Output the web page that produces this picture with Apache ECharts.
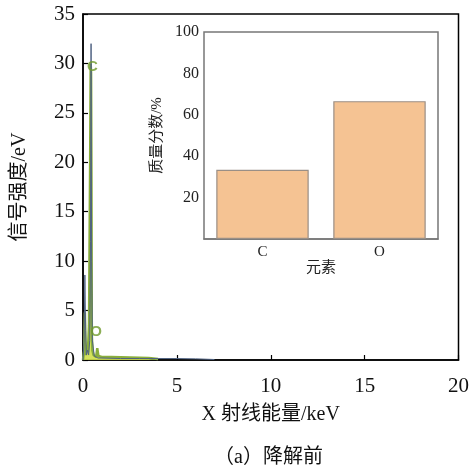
<!DOCTYPE html>
<html><head><meta charset="utf-8">
<script src="https://cdn.jsdelivr.net/npm/echarts@6/dist/echarts.min.js"></script>
<style>html,body{margin:0;padding:0;background:#fff}#c{width:472px;height:468px}</style>
</head><body><div id="c"></div>
<script>
// Spectrum (keV, signal)
const greenX = [0, 0.06, 0.1, 0.13, 0.16, 0.2, 0.26, 0.32, 0.38, 0.41, 0.43, 0.45, 0.47, 0.5, 0.56, 0.62, 0.7, 0.76, 0.82, 0.9, 1.0, 1.5, 2.5, 3.5, 4.0];
const greenY = [0, 1.0, 4.8, 2.0, 0.5, 1.5, 0.8, 3.5, 20, 30, 29, 18, 2.5, 1.0, 0.5, 0.4, 0.3, 1.2, 0.4, 0.3, 0.3, 0.3, 0.25, 0.2, 0.1];
const blueX = [0, 0.06, 0.1, 0.14, 0.18, 0.24, 0.3, 0.36, 0.4, 0.43, 0.46, 0.5, 0.6, 0.8, 1.0, 2, 3, 4, 5, 6, 7];
const blueY = [0, 2, 8.6, 3, 0.5, 1, 0.5, 2, 12, 32, 10, 2, 0.4, 0.2, 0.2, 0.15, 0.15, 0.15, 0.15, 0.12, 0.05];
const peakNames = ['C', 'O'];
const peakX = [0.5, 0.7];
const peakY = [29.7, 2.8];
// Inset bars
const elements = ['C', 'O'];
const massFraction = [33.4, 66.6];
const mainYTicks = [0, 35, 5];
const mainXTicks = [0, 20, 5];

const serif = 'Liberation Serif, Noto Sans CJK SC, serif';
const chart = echarts.init(document.getElementById('c'));
chart.setOption({
  animation: false,
  grid: [
    {left: 83, top: 14, width: 378, height: 346, show: true, borderColor: '#000', borderWidth: 1.5, backgroundColor: 'transparent'},
    {left: 204, top: 32, width: 234, height: 207, show: true, borderColor: '#777', borderWidth: 1.5, backgroundColor: '#fff', z: 5}
  ],
  xAxis: [
    {gridIndex: 0, type: 'value', min: mainXTicks[0], max: mainXTicks[1], interval: mainXTicks[2],
     name: 'X 射线能量/keV', nameLocation: 'middle', nameGap: 45,
     nameTextStyle: {fontFamily: serif, fontSize: 20, color: '#111'},
     axisLine: {lineStyle: {color: '#000', width: 1.5}},
     axisTick: {inside: true, length: 5, lineStyle: {color: '#000', width: 1.2}},
     axisLabel: {fontFamily: serif, fontSize: 21, color: '#111', margin: 16},
     splitLine: {show: false}},
    {gridIndex: 1, type: 'category', data: elements, z: 6,
     name: '元素', nameLocation: 'middle', nameGap: 21,
     nameTextStyle: {fontFamily: serif, fontSize: 15, color: '#222'},
     axisLine: {lineStyle: {color: '#777', width: 1.5}},
     axisTick: {show: false},
     axisLabel: {fontFamily: serif, fontSize: 15, color: '#222', margin: 6}}
  ],
  yAxis: [
    {gridIndex: 0, type: 'value', min: mainYTicks[0], max: mainYTicks[1], interval: mainYTicks[2],
     name: '信号强度/eV', nameLocation: 'middle', nameGap: 53,
     nameTextStyle: {fontFamily: serif, fontSize: 20, color: '#111'},
     axisLine: {lineStyle: {color: '#000', width: 1.5}},
     axisTick: {inside: true, length: 5, lineStyle: {color: '#000', width: 1.2}},
     axisLabel: {fontFamily: serif, fontSize: 21, color: '#111', margin: 8},
     splitLine: {show: false}},
    {gridIndex: 1, type: 'value', min: 0, max: 100, interval: 20, z: 6,
     name: '质量分数/%', nameLocation: 'middle', nameGap: 39,
     nameTextStyle: {fontFamily: serif, fontSize: 15, color: '#222'},
     axisLine: {lineStyle: {color: '#777', width: 1.5}},
     axisTick: {show: false},
     axisLabel: {fontFamily: serif, fontSize: 16, color: '#222', margin: 5,
                 formatter: v => v === 0 ? '' : v},
     splitLine: {show: false}}
  ],
  series: [
    {type: 'line', xAxisIndex: 0, yAxisIndex: 0, symbol: 'none', z: 2,
     data: greenX.map((x, i) => [x, greenY[i]]),
     lineStyle: {color: '#8aae3c', width: 2.5},
     areaStyle: {color: '#cfdf4a', opacity: 0.9}},
    {type: 'line', xAxisIndex: 0, yAxisIndex: 0, symbol: 'none', z: 3,
     data: blueX.map((x, i) => [x, blueY[i]]),
     lineStyle: {color: '#4f6282', width: 1}},
    {type: 'scatter', xAxisIndex: 0, yAxisIndex: 0, symbolSize: 0, z: 4,
     data: peakX.map((x, i) => ({name: peakNames[i], value: [x, peakY[i]]})),
     label: {show: true, position: 'inside', formatter: p => p.name,
             fontFamily: 'Liberation Sans, sans-serif', fontWeight: 'bold', fontSize: 15, color: '#6f9a2a'}},
    {type: 'bar', xAxisIndex: 1, yAxisIndex: 1, data: massFraction, barWidth: '79%', z: 6,
     itemStyle: {color: '#f5c393', borderColor: '#9a8f86', borderWidth: 1.2}}
  ],
  graphic: [
    {type: 'text', left: 214, top: 448, z: 10,
     style: {text: '（a）降解前', font: '20px ' + serif, fill: '#111'}}
  ]
});
</script></body></html>
